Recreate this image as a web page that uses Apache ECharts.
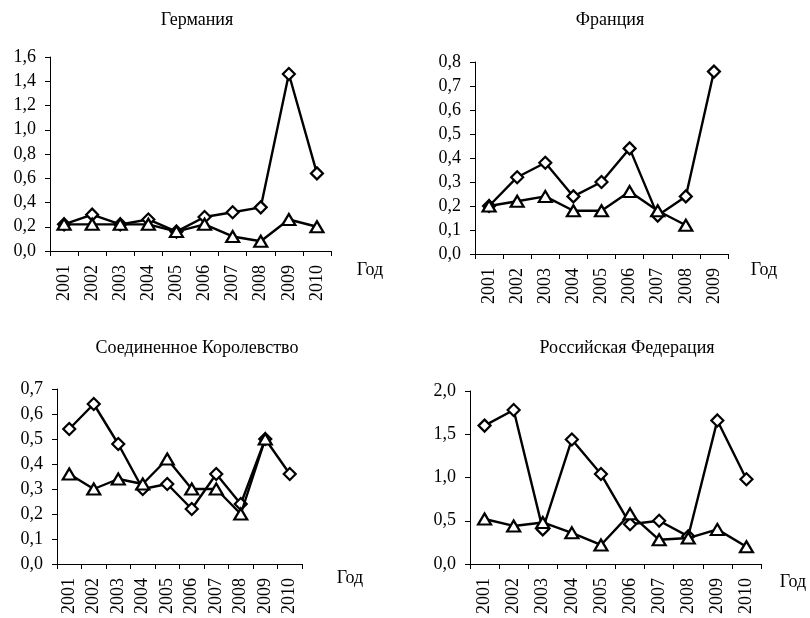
<!DOCTYPE html>
<html>
<head>
<meta charset="utf-8">
<script src="https://cdn.jsdelivr.net/npm/echarts@6/dist/echarts.min.js"></script>
<style>html,body{margin:0;padding:0;background:#fff}#c{width:810px;height:618px}</style>
</head>
<body>
<div id="c"></div>
<script>
var yearsA = ['2001','2002','2003','2004','2005','2006','2007','2008','2009','2010'];
var yearsFR = ['2001','2002','2003','2004','2005','2006','2007','2008','2009'];

var titles = ['Германия', 'Франция', 'Соединенное Королевство', 'Российская Федерация'];
var axisName = 'Год';

var deDiamond = [0.22, 0.30, 0.22, 0.26, 0.16, 0.28, 0.32, 0.36, 1.46, 0.64];
var deTriangle = [0.22, 0.22, 0.22, 0.22, 0.16, 0.22, 0.12, 0.08, 0.26, 0.20];

var frDiamond = [0.20, 0.32, 0.38, 0.24, 0.30, 0.44, 0.16, 0.24, 0.76];
var frTriangle = [0.20, 0.22, 0.24, 0.18, 0.18, 0.26, 0.18, 0.12, null];

var ukDiamond = [0.54, 0.64, 0.48, 0.30, 0.32, 0.22, 0.36, 0.24, 0.50, 0.36];
var ukTriangle = [0.36, 0.30, 0.34, 0.32, 0.42, 0.30, 0.30, 0.20, 0.50, null];

var ruDiamond = [1.60, 1.78, 0.40, 1.44, 1.04, 0.46, 0.50, 0.32, 1.66, 0.98];
var ruTriangle = [0.52, 0.44, 0.48, 0.36, 0.22, 0.58, 0.28, 0.30, 0.40, 0.20];

var yMax = [1.6, 0.8, 0.7, 2.0];
var yStep = [0.2, 0.1, 0.1, 0.5];

var FONT = '"Liberation Serif", "Times New Roman", serif';
var FS = 18;
var grids = [
  {left: 50, top: 57, width: 281, height: 194},
  {left: 475, top: 62, width: 253, height: 192},
  {left: 57, top: 389, width: 245, height: 175},
  {left: 470, top: 391, width: 291, height: 173}
];
var cats = [yearsA, yearsFR, yearsA, yearsA];
var dataD = [deDiamond, frDiamond, ukDiamond, ruDiamond];
var dataT = [deTriangle, frTriangle, ukTriangle, ruTriangle];
var titlePos = [[197, 20], [610, 20], [197, 348], [627, 348]];
var namePos = [[370, 270], [764, 270], [350, 578], [793, 582]];

var xAxes = [], yAxes = [], series = [], graphics = [];
for (var i = 0; i < 4; i++) {
  xAxes.push({
    type: 'category', gridIndex: i, data: cats[i], boundaryGap: true,
    axisLine: {lineStyle: {color: '#000', width: 1}},
    axisTick: {show: true, length: 5, inside: false, lineStyle: {color: '#000'}},
    axisLabel: {rotate: 90, margin: 14, color: '#000', fontFamily: FONT, fontSize: FS, interval: 0}
  });
  yAxes.push({
    type: 'value', gridIndex: i, min: 0, max: yMax[i], interval: yStep[i],
    axisLine: {show: true, lineStyle: {color: '#000', width: 1}},
    axisTick: {show: true, length: 5, lineStyle: {color: '#000'}},
    splitLine: {show: false},
    axisLabel: {margin: 14, color: '#000', fontFamily: FONT, fontSize: FS,
      formatter: function (v) { return v.toFixed(1).replace('.', ','); }}
  });
  series.push({
    type: 'line', xAxisIndex: i, yAxisIndex: i, data: dataD[i],
    symbol: 'diamond', symbolSize: [12, 12], showAllSymbol: true,
    lineStyle: {color: '#000', width: 2.4},
    itemStyle: {color: '#fff', borderColor: '#000', borderWidth: 2.2},
    emphasis: {disabled: true}, animation: false, z: 2
  });
  series.push({
    type: 'line', xAxisIndex: i, yAxisIndex: i, data: dataT[i],
    symbol: 'triangle', symbolSize: [13, 11], showAllSymbol: true,
    lineStyle: {color: '#000', width: 2.4},
    itemStyle: {color: '#fff', borderColor: '#000', borderWidth: 2.2},
    emphasis: {disabled: true}, animation: false, z: 3
  });
  graphics.push({
    type: 'text', x: titlePos[i][0], y: titlePos[i][1],
    style: {text: titles[i], align: 'center', verticalAlign: 'middle', font: FS + 'px ' + FONT, fill: '#000'}
  });
  graphics.push({
    type: 'text', x: namePos[i][0], y: namePos[i][1],
    style: {text: axisName, align: 'center', verticalAlign: 'middle', font: FS + 'px ' + FONT, fill: '#000'}
  });
}

var chart = echarts.init(document.getElementById('c'), null, {renderer: 'canvas'});
chart.setOption({
  animation: false,
  backgroundColor: '#fff',
  grid: grids,
  xAxis: xAxes,
  yAxis: yAxes,
  series: series,
  graphic: graphics
});
</script>
</body>
</html>
